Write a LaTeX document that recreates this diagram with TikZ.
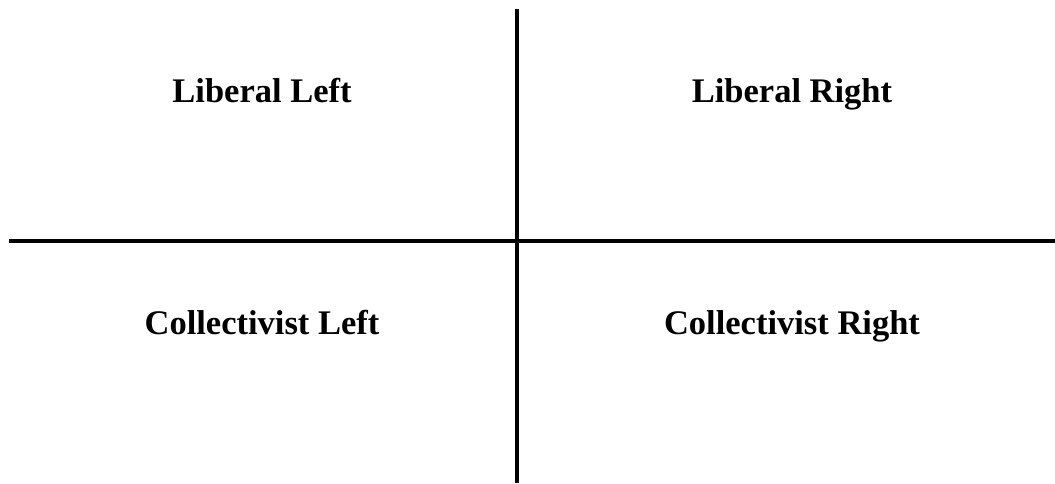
\documentclass[tikz,border=0pt]{standalone}
\usepackage{fontspec}
\setmainfont{Liberation Serif}
\begin{document}
\begin{tikzpicture}[x=1pt, y=-1pt, axis/.style={line width=4pt}, quad/.style={anchor=base, font=\fontsize{34.5}{40}\selectfont\bfseries}]
  \useasboundingbox (0,0) rectangle (1055,483);
  % Axes
  \coordinate (top) at (517,9);
  \coordinate (bottom) at (517,483);
  \coordinate (left) at (9,241);
  \coordinate (right) at (1055,241);
  \draw[axis] (top) -- (bottom);
  \draw[axis] (left) -- (right);
  % Quadrant labels
  \node[quad] (libleft) at (262,102) {Liberal Left};
  \node[quad] (libright) at (792,102) {Liberal Right};
  \node[quad] (colleft) at (262,334) {Collectivist Left};
  \node[quad] (colright) at (792,334) {Collectivist Right};
\end{tikzpicture}
\end{document}
